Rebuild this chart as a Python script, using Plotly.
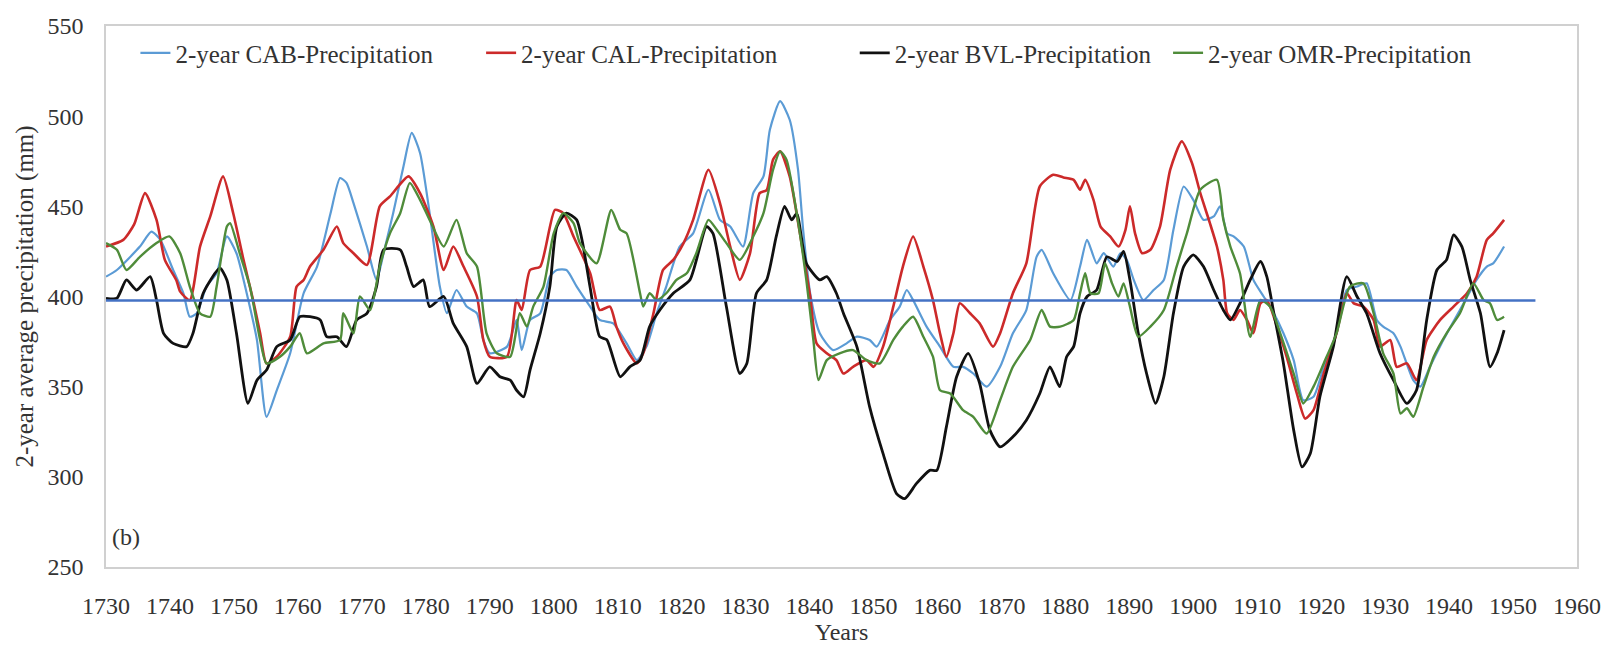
import plotly.graph_objects as go

# ---------------- data ----------------
cab_years = [1730,1731.7,1735.3,1737.1,1738.5,1740.5,1742.1,1743.1,1744.2,1745.7,1747.3,1748.9,1750.4,1752,1753.6,1755.1,1756.7,1758.8,1760.9,1763,1765.1,1766.6,1767.6,1768.7,1770.8,1772.3,1773.4,1774.9,1776.5,1777.8,1779.1,1780.6,1782.2,1783.3,1784.8,1786.4,1788,1789,1790,1792.7,1794.2,1795,1796.3,1797.9,1799.4,1800.5,1802,1803.6,
             1805.7,1807.2,1809.3,1811.4,1813,1814.5,1816.1,1817.6,1819.7,1821.8,1824.2,1826,1827.6,1829.6,1831.2,1832.8,1833.8,1835.4,1836.9,1838.2,1839,1840.1,1841.6,1843.7,1845.8,1847.4,1849.4,1850.5,1852.6,1854.1,1855.2,1856.2,1858.3,1860.4,1862.5,1864,1865.6,1867.7,1869.8,1871.8,1873.9,1875.5,1876.3,1878.1,
             1880.8,1882.3,1883.4,1884.9,1886,1887.5,1888.6,1889.6,1890.7,1892.2,1893.8,1895.4,1896.9,1898.5,1900,1901.6,1903.2,1904.2,1905.3,1906.3,1907.9,1909.4,1911,1912.6,1914.1,1915.7,1917.2,1918.8,1920.4,1922.4,1924,1925.6,1927.1,1928.7,1929.7,1931.3,1932.4,1934.4,1935.5,1937,1939.1,1941.7,1944.3,1945.9,1946.9,1948.6]
cab_values = [411,414.7,427.7,436,431.4,414.7,401.8,388.8,390.7,405.5,412.9,433.3,424,401.8,375.9,333.3,348,368.5,401.8,416.6,446,465.7,463,451.8,427.7,409.2,424,446.2,472,490.7,479.6,446.2,405.5,390.7,403.6,394.4,390.7,375.9,368.5,372.2,387,370.3,387,390.7,411,414.7,414.7,405.5,
              394.4,387,385.1,374,364.7,372.2,390.7,405.5,427.7,435,459.2,442.5,438.8,427.7,457.3,466.6,492.5,508.3,498,470.3,437,401.8,379.6,370.3,374,377.7,375.9,372.2,387,394.4,403.6,398,383.3,372.2,361,361,357.3,350,361,379.6,392.5,422,425.9,412.9,
              398,416.6,431.4,418.4,424,416.6,424,420.3,409.2,398,403.6,409.2,437,461,453.6,442.5,444.4,450,435,433.3,427.7,409.2,400,390.7,379.6,364.7,342.5,344.4,361,379.6,403.6,405.5,407.3,387,383.3,379.6,372.2,353.6,350,361,375.9,392.5,409.2,416.6,418.4,427.7]

cal_years = [1730,1732.7,1734.4,1736.1,1737.9,1739.2,1741,1741.6,1743.1,1744.7,1746.3,1748.3,1749.9,1751.5,1753,1754.1,1755.1,1756.7,1758.8,1759.8,1760.9,1761.9,1764,1766.1,1767.1,1768.7,1770.8,1772.8,1774.4,1777.3,1779.1,1781.2,1782.8,1784.3,1785.9,1788,1789,1790,1792.7,1794.2,1795,1796.3,1797.9,1800.2,1801.5,1803.1,
             1805.7,1807.2,1808.8,1809.8,1810.9,1813,1814,1815.6,1817.1,1818.7,1820.3,1821.8,1824.2,1826,1827.6,1829.1,1830.7,1832.2,1833.3,1834.3,1835.4,1836.9,1838.5,1840.1,1841.1,1842.7,1844.2,1845.3,1846.8,1848.9,1850,1851.5,1853.1,1854.6,1856.2,1857.8,1859.3,1860.4,1861.4,1862.5,1863.5,1865.1,1866.6,1868.7,1869.8,1871.8,1873.9,1876,1878.1,1879.7,
             1881.3,1882.3,1883.1,1884.4,1885.5,1887,1888.3,1889.4,1890.1,1890.9,1892,1893.3,1894.8,1896.4,1898.2,1899.8,1901.1,1902.6,1903.7,1904.7,1905.3,1906.3,1907.3,1908.4,1909.4,1910.5,1911.5,1913.1,1914.6,1916.2,1917.5,1918.8,1920.4,1922.4,1924,1925.1,1926.6,1928.2,1929.2,1930.8,1931.8,1933.4,1934.9,1936.5,1938.6,1940.7,1942.8,1944.3,1945.9,1946.9,1948.6]
cal_values = [427.7,431.4,440,457.3,442.5,420.3,409,402.7,398,427.7,444.4,466.6,446,420.3,398,379.6,362.9,366.6,377.7,405.5,409.2,416.6,425.9,438.8,429.6,424,417.5,450,455.5,466.6,457.3,438.8,414.7,427.7,416.6,400,375.9,366.6,366.6,398,392.5,414.7,416.6,448,446.2,433.3,
              412.9,392.5,394.4,383.3,374,362.9,368.5,390.7,414.7,420.3,429.6,442.5,470.3,451.8,427.7,409.2,424,457.3,459,475.9,480.5,466.6,435,400,374,368.5,364.7,357.3,361,364.7,361,372.2,394.4,416.6,433.3,416.6,398,379.6,366.6,379.6,396.2,390.7,385.1,372.2,379.6,401.8,418.4,461,467.5,466,
              464.7,459.2,464.7,453.6,438.8,433.3,427.7,437,450,435,424,425.9,438.8,470.3,486,474,457.3,440.7,427.7,409.2,390.7,387,392.5,387,379.6,396.2,398,383.3,366.6,346.2,332.3,337,357.3,379.6,401.8,396.2,394.4,387,372.2,375.9,361,362.9,353.6,375.9,387,394.4,401.8,411,431.4,435,442.5]

bvl_years = [1730,1731.7,1733.2,1734.8,1736.9,1737.9,1739,1740.5,1742.6,1743.6,1745.2,1747.8,1748.9,1750.4,1752.2,1753.6,1755.1,1756.7,1758.8,1760.3,1761.9,1763.5,1764.5,1766.1,1767.6,1769.2,1770.8,1772.3,1773.4,1776,1777,1778.1,1779.6,1780.6,1782.8,1784.3,1786.4,1788,1790,1791.6,1793.2,1794.2,1795.3,1796.3,1797.9,1799.4,1800.5,1802,1803.6,
             1804.5,1805.7,1807.2,1808.3,1810.4,1811.9,1813.5,1815,1816.6,1818.7,1821.3,1823.9,1824.9,1827,1829.1,1830.2,1831.7,1833.3,1834.8,1836.1,1837.2,1838,1839.5,1841.6,1842.7,1844.2,1845.3,1847.4,1849.4,1851.5,1853.6,1854.9,1856.7,1858.8,1859.9,1861.4,1863,1864.8,1866.6,1868.2,1869.8,1871.8,1873.9,1876,1877.6,1879.1,
             1880.2,1881.3,1882.3,1883.4,1884.9,1886.5,1888.1,1889.1,1890.1,1891.4,1892.7,1894.1,1895.4,1896.9,1898.5,1900,1901.6,1903.2,1904.7,1905.8,1907.3,1908.9,1910.5,1911.5,1912.6,1914.1,1915.7,1917,1918.3,1919.8,1921.9,1924,1925.6,1927.1,1929.2,1931.3,1933.4,1934.9,1936.5,1938.1,1939.6,1940.7,1942,1943.3,1944.9,1946.4,1947.5,1948.6]
bvl_values = [399,399,409.2,403.6,411,398,379.6,374,372.2,379.6,401.8,415.7,409.2,379.6,340.7,353.6,359.2,372.2,375.9,388.8,388.8,387,377.7,377.7,372.2,387,390.7,405.5,425.9,425.9,416.6,405.5,409.2,394.4,400,385.1,372.2,351.8,361,355.5,353.6,348,344.4,359.2,379.6,405.5,438.8,446.2,442.5,
              430,405,377.7,376,355.5,361,364.7,383.3,392.5,401.8,409.2,438.8,435,394.4,357.3,362.9,401.8,409.2,433.3,450,442.5,446,418.4,409.2,411,401.8,390.7,372.2,338.8,312.9,290.7,287.9,296.2,303.6,303.6,327.7,355.5,368.5,351.8,325.9,316.6,322.2,331.4,346.2,361,350,
              366.6,372.2,390.7,400,403.6,422,419.4,425,409.2,379.6,357.3,340.7,355.5,390.7,416.6,423.1,416.6,403.6,392.5,387,396.2,409.2,419.4,411,390.7,362.9,325.9,305.5,312.9,344.4,372.2,411,400,390.7,368.5,353.6,340.7,348,387,414.7,420.3,434.2,427.7,409.2,390.7,361,368.5,381.4]

omr_years = [1730,1731.7,1733.2,1735.3,1737.9,1739.9,1741.6,1743.1,1744.7,1746.3,1747.3,1748.9,1749.4,1750.9,1752.5,1754.1,1755.1,1757.2,1758.8,1760.3,1761.4,1764,1766.6,1767.1,1768.7,1769.7,1771.3,1772.8,1774.4,1776,1777.5,1779.1,1780.6,1782.8,1784.8,1786.4,1788,1789.5,1791.1,1793.2,1794.7,1795.8,1796.8,1798.4,1800,1801.5,1803.1,
             1804.1,1806.7,1809,1810.4,1811.4,1813.5,1814,1815,1816.1,1817.6,1819.2,1820.8,1822.3,1824.2,1825.5,1827,1829.1,1831.2,1832.8,1834.3,1835.4,1836.4,1838,1839.5,1840.6,1841.4,1842.7,1844.7,1846.8,1848.9,1851,1853.1,1854.6,1856.2,1857.8,1859.3,1860.4,1862,1864,1865.6,1867.7,1869.8,1871.8,1874.5,1876.3,1877.6,
             1879.2,1881.3,1882.3,1883.1,1883.9,1885.2,1886.2,1887.3,1888.3,1889.1,1890.1,1891.4,1893.3,1895.4,1897.4,1899,1901.1,1903.7,1904.7,1905.8,1907.3,1908.9,1910.5,1912,1913.6,1915.7,1917.2,1918.8,1920.4,1922.4,1924.5,1926.6,1928.2,1929.7,1931.3,1932.4,1933.4,1934.4,1936,1937.6,1939.6,1941.7,1943.8,1945.4,1946.4,1947.5,1948.6]
omr_values = [429.6,425.9,414.7,422,429.6,433.3,424,405.5,390.7,388.8,405.5,438.8,440.7,424,405.5,375.9,362.9,366.6,372.2,379.6,368.5,374,375.9,390.7,379.6,400,392.5,416.6,435,446.2,462.9,453.6,442.5,427.7,442.5,424,416.6,379.6,368.5,366.6,390.7,383.3,394.4,405.5,435,446.2,440.7,
              429.6,418.4,448,437,435,401.8,394.4,401.8,398,401.8,409.2,412.9,424,442.5,437,429.6,420.3,433.3,446.2,470.3,480.5,475.9,446.2,409.2,375.9,353.6,364.7,368.5,370.3,364.7,362.9,375.9,383.3,388.8,377.7,366.6,348,346.2,337,333.3,324,342.5,361,375.9,392.5,383.3,
              383.3,387,401.8,412.9,401.8,401.8,418.4,407.3,400,407.3,394.4,377.7,383.3,392.5,416.6,435,459.2,464.7,442.5,427.7,412.9,377.7,398,394.4,379.6,357.3,340.7,350,362.9,379.6,405.5,407.3,390.7,368.5,357.3,335.1,338,333.3,350,366.6,379.6,390.7,407.3,398,396.2,387,388.8]

mean_years = [1730, 1953.5]
mean_value = 397.8

series_names = ["2-year CAB-Precipitation", "2-year CAL-Precipitation",
                "2-year BVL-Precipitation", "2-year OMR-Precipitation"]
x_ticks = list(range(1730, 1961, 10))
y_ticks = [250, 300, 350, 400, 450, 500, 550]

# ---------------- styling ----------------
colors = ["#5B9BD5", "#CC2A2A", "#111111", "#4F8C3A"]
widths = [2.2, 2.6, 2.8, 2.4]
legend_x = [0.020, 0.255, 0.509, 0.722]
FONT = "Liberation Serif, Times New Roman, serif"
TXT = "#333333"

fig = go.Figure()
data = [(cab_years, cab_values), (cal_years, cal_values),
        (bvl_years, bvl_values), (omr_years, omr_values)]
legend_ids = ["legend", "legend2", "legend3", "legend4"]
for i, (xs, ys) in enumerate(data):
    fig.add_trace(go.Scatter(
        x=xs, y=ys, mode="lines", name=series_names[i],
        line=dict(color=colors[i], width=widths[i], shape="spline", smoothing=0.6),
        legend=legend_ids[i], showlegend=True))

fig.add_trace(go.Scatter(
    x=mean_years, y=[mean_value] * len(mean_years), mode="lines",
    line=dict(color="#4472C4", width=2.4), showlegend=False, hoverinfo="skip"))

legend_common = dict(orientation="h", yanchor="middle", y=0.950, xanchor="left",
                     bgcolor="rgba(0,0,0,0)", font=dict(family=FONT, size=25, color=TXT),
                     itemwidth=30, tracegroupgap=0)
layout_legends = {}
for i, lid in enumerate(legend_ids):
    layout_legends[lid] = dict(legend_common, x=legend_x[i])

fig.update_layout(
    width=1608, height=646,
    margin=dict(l=106, r=31, t=26, b=79, autoexpand=False),
    paper_bgcolor="white", plot_bgcolor="white",
    font=dict(family=FONT, color=TXT),
    **layout_legends,
    xaxis=dict(range=[1730, 1960], tickvals=x_ticks, ticktext=[str(v) for v in x_ticks],
               showgrid=False, zeroline=False, showline=True, mirror=True,
               linecolor="#d0d0d0", linewidth=1.5, ticks="", automargin=False,
               ticklabelstandoff=16,
               tickfont=dict(family=FONT, size=24, color=TXT),
               title=dict(text="Years", font=dict(family=FONT, size=24, color=TXT), standoff=0)),
    yaxis=dict(range=[250, 550], tickvals=y_ticks,
               showgrid=False, zeroline=False, showline=True, mirror=True,
               linecolor="#d0d0d0", linewidth=1.5, ticks="", automargin=False,
               ticklabelstandoff=16,
               tickfont=dict(family=FONT, size=24, color=TXT),
               title=dict(text="2-year average precipitation (mm)",
                          font=dict(family=FONT, size=25, color=TXT), standoff=7)),
    annotations=[dict(text="(b)", xref="paper", yref="paper", x=0.003, y=0.055,
                      xanchor="left", yanchor="middle", showarrow=False,
                      font=dict(family=FONT, size=24, color=TXT))],
)

fig.write_html("out.html")
